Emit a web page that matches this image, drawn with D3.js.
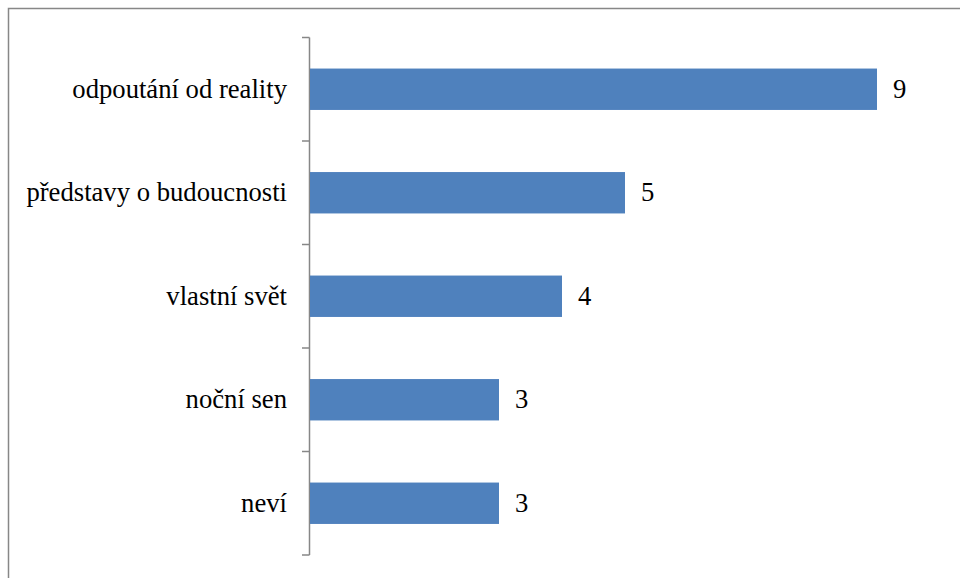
<!DOCTYPE html>
<html>
<head>
<meta charset="utf-8">
<script src="https://cdn.jsdelivr.net/npm/d3@7"></script>
</head>
<body style="margin:0">
<svg id="chart" width="960" height="578"></svg>
<script>
// Answers and their counts, top to bottom
const categories = ["odpoutání od reality", "představy o budoucnosti", "vlastní svět", "noční sen", "neví"];
const counts = [9, 5, 4, 3, 3];

const svg = d3.select("#chart");
const W = 960, H = 578;
const FONT = '"Times New Roman", "Liberation Serif", serif';
const FONT_SIZE = 26.67;

// outer frame (runs off the right and bottom edges)
svg.append("rect")
  .attr("x", 8.5).attr("y", 8.5)
  .attr("width", W + 20).attr("height", H + 20)
  .attr("fill", "none")
  .attr("stroke", "#878787")
  .attr("stroke-width", 1.5);

const x0 = 310;
const x = d3.scaleLinear().domain([0, 9]).range([x0, 877]);
const y = d3.scaleBand().domain(categories).range([37.5, 555]).paddingInner(0.6).paddingOuter(0.3);

// category axis with ticks at band boundaries
const axisColor = "#878787";
const boundaries = d3.range(categories.length + 1).map(i => 37.5 + i * (555 - 37.5) / categories.length);
svg.append("line")
  .attr("x1", x0 - 0.5).attr("x2", x0 - 0.5)
  .attr("y1", boundaries[0]).attr("y2", boundaries[boundaries.length - 1])
  .attr("stroke", axisColor).attr("stroke-width", 1.5);
svg.selectAll("line.tick").data(boundaries).join("line")
  .attr("class", "tick")
  .attr("x1", x0 - 8).attr("x2", x0 - 0.5)
  .attr("y1", d => d).attr("y2", d => d)
  .attr("stroke", axisColor).attr("stroke-width", 1.5);

// bars
svg.selectAll("rect.bar").data(categories).join("rect")
  .attr("class", "bar")
  .attr("x", x0)
  .attr("y", d => y(d))
  .attr("width", (d, i) => x(counts[i]) - x0)
  .attr("height", y.bandwidth())
  .attr("fill", "#4F81BD");

// category labels
svg.selectAll("text.cat").data(categories).join("text")
  .attr("class", "cat")
  .attr("x", x0 - 23)
  .attr("y", d => y(d) + y.bandwidth() / 2)
  .attr("dy", "0.32em")
  .attr("text-anchor", "end")
  .attr("font-size", FONT_SIZE)
  .style("font-family", FONT)
  .text(d => d);

// value labels
svg.selectAll("text.val").data(categories).join("text")
  .attr("class", "val")
  .attr("x", (d, i) => x(counts[i]) + 16)
  .attr("y", d => y(d) + y.bandwidth() / 2)
  .attr("dy", "0.32em")
  .attr("font-size", FONT_SIZE)
  .style("font-family", FONT)
  .text((d, i) => counts[i]);
</script>
</body>
</html>
